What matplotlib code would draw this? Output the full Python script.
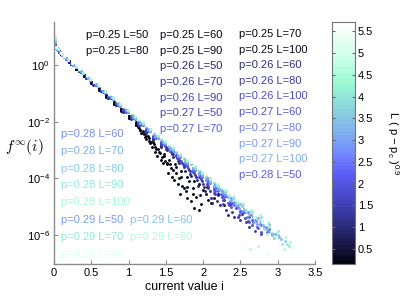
import numpy as np
import matplotlib
matplotlib.use("Agg")
import matplotlib.pyplot as plt
from matplotlib.colors import LinearSegmentedColormap, Normalize
from matplotlib.cm import ScalarMappable

plt.rcParams['font.family'] = ['Liberation Sans', 'DejaVu Sans']
plt.rcParams['mathtext.fontset'] = 'custom'
plt.rcParams['mathtext.rm'] = 'Liberation Sans'
plt.rcParams['mathtext.it'] = 'Liberation Sans:italic'

# parameters of the runs
P_VALUES = [0.25, 0.26, 0.27, 0.28, 0.29]
L_VALUES = [50, 60, 70, 80, 90, 100]
P_C = 0.2484
EXPONENT = 0.9

# data: i values and log10 f(i), smooth head + noisy tail
I_HEAD_025 = [0.0, 0.02, 0.05, 0.1, 0.2, 0.3, 0.4, 0.5, 0.6, 0.7, 0.8, 0.9, 1.0, 1.1]
F_HEAD_025 = {
    50: [0.75, 0.66, 0.53, 0.38, 0.10, -0.15, -0.39, -0.63, -0.88, -1.12, -1.37, -1.62, -1.87, -2.12],
    60: [0.80, 0.67, 0.54, 0.38, 0.11, -0.14, -0.38, -0.62, -0.87, -1.11, -1.36, -1.60, -1.85, -2.10],
    70: [0.85, 0.68, 0.54, 0.39, 0.12, -0.13, -0.37, -0.61, -0.85, -1.09, -1.34, -1.58, -1.83, -2.07],
    80: [0.90, 0.69, 0.55, 0.39, 0.12, -0.12, -0.36, -0.60, -0.84, -1.08, -1.32, -1.56, -1.80, -2.04],
    90: [0.95, 0.70, 0.55, 0.40, 0.13, -0.12, -0.35, -0.59, -0.83, -1.07, -1.31, -1.55, -1.79, -2.03],
    100: [1.00, 0.71, 0.56, 0.40, 0.13, -0.11, -0.35, -0.58, -0.82, -1.06, -1.30, -1.54, -1.78, -2.01],
}
I_TAIL_025 = {
    50: [1.17, 1.24, 1.31, 1.38, 1.46, 1.53, 1.61, 1.69, 1.78, 1.88],
    60: [1.15, 1.22, 1.29, 1.36, 1.43, 1.51, 1.58, 1.66, 1.75, 1.84, 1.95],
    70: [1.16, 1.23, 1.30, 1.37, 1.45, 1.52, 1.60, 1.68, 1.77, 1.86, 1.97, 2.05],
    80: [1.14, 1.21, 1.28, 1.35, 1.42, 1.49, 1.57, 1.64, 1.72, 1.81, 1.90, 2.0, 2.1],
    90: [1.13, 1.2, 1.27, 1.34, 1.41, 1.48, 1.55, 1.63, 1.71, 1.79, 1.88, 1.96, 2.06, 2.2],
    100: [1.12, 1.19, 1.26, 1.33, 1.40, 1.47, 1.54, 1.62, 1.70, 1.78, 1.86, 1.95, 2.04, 2.15, 2.28, 2.43],
}
F_TAIL_025 = {
    50: [-2.40, -2.62, -2.90, -3.22, -3.45, -3.80, -4.05, -4.55, -4.70, -5.05],
    60: [-2.30, -2.55, -2.75, -3.05, -3.35, -3.50, -3.95, -4.20, -4.35, -4.80, -5.10],
    70: [-2.28, -2.50, -2.72, -2.95, -3.25, -3.45, -3.70, -4.00, -4.45, -4.55, -4.90, -4.30],
    80: [-2.22, -2.42, -2.68, -2.88, -3.10, -3.40, -3.62, -3.80, -4.25, -4.10, -4.65, -4.40, -4.85],
    90: [-2.18, -2.38, -2.58, -2.80, -3.05, -3.20, -3.50, -3.58, -3.95, -4.30, -4.10, -4.60, -4.75, -4.55],
    100: [-2.12, -2.32, -2.50, -2.72, -2.95, -3.12, -3.35, -3.48, -3.75, -3.95, -4.35, -4.20, -4.55, -4.70, -4.95, -4.88],
}

I_HEAD_026 = [0.01, 0.03, 0.07, 0.13, 0.23, 0.33, 0.43, 0.53, 0.63, 0.73, 0.83, 0.93, 1.03, 1.13, 1.23, 1.33, 1.43]
F_HEAD_026 = {
    50: [0.72, 0.60, 0.47, 0.28, 0.03, -0.21, -0.45, -0.69, -0.93, -1.17, -1.41, -1.66, -1.90, -2.14, -2.39, -2.63, -2.88],
    60: [0.74, 0.61, 0.48, 0.29, 0.04, -0.20, -0.44, -0.68, -0.91, -1.15, -1.39, -1.64, -1.87, -2.11, -2.36, -2.59, -2.84],
    70: [0.75, 0.62, 0.49, 0.30, 0.05, -0.19, -0.43, -0.67, -0.90, -1.14, -1.38, -1.62, -1.85, -2.09, -2.33, -2.57, -2.81],
    80: [0.76, 0.63, 0.49, 0.30, 0.05, -0.18, -0.42, -0.65, -0.88, -1.12, -1.36, -1.60, -1.83, -2.07, -2.31, -2.54, -2.78],
    90: [0.78, 0.64, 0.50, 0.31, 0.06, -0.17, -0.41, -0.64, -0.87, -1.11, -1.35, -1.58, -1.81, -2.05, -2.28, -2.52, -2.75],
    100: [0.82, 0.65, 0.51, 0.32, 0.07, -0.16, -0.40, -0.63, -0.86, -1.10, -1.33, -1.56, -1.79, -2.03, -2.26, -2.49, -2.72],
}
I_TAIL_026 = {
    50: [1.52, 1.60, 1.68, 1.76, 1.84, 1.93, 2.02, 2.12, 2.22, 2.33],
    60: [1.50, 1.58, 1.66, 1.74, 1.83, 1.92, 2.01, 2.10, 2.20, 2.31, 2.42, 2.52],
    70: [1.51, 1.59, 1.67, 1.75, 1.83, 1.91, 2.00, 2.09, 2.18, 2.28, 2.39, 2.50, 2.62],
    80: [1.50, 1.57, 1.65, 1.73, 1.81, 1.89, 1.98, 2.07, 2.16, 2.26, 2.36, 2.47, 2.58, 2.70],
    90: [1.49, 1.56, 1.64, 1.72, 1.80, 1.88, 1.97, 2.06, 2.15, 2.25, 2.35, 2.45, 2.56, 2.67, 2.78],
    100: [1.48, 1.55, 1.63, 1.71, 1.79, 1.87, 1.96, 2.05, 2.14, 2.24, 2.34, 2.44, 2.55, 2.66, 2.77, 2.89],
}
F_TAIL_026 = {
    50: [-3.00, -3.25, -3.45, -3.72, -3.90, -4.25, -4.45, -4.85, -4.95, -5.30],
    60: [-2.95, -3.15, -3.40, -3.60, -3.85, -4.05, -4.30, -4.70, -4.60, -5.10, -5.35, -5.25],
    70: [-2.92, -3.12, -3.35, -3.55, -3.75, -3.95, -4.20, -4.45, -4.80, -4.75, -5.20, -5.45, -5.70],
    80: [-2.88, -3.08, -3.28, -3.48, -3.70, -3.88, -4.10, -4.35, -4.55, -4.90, -4.85, -5.35, -5.55, -5.85],
    90: [-2.84, -3.02, -3.22, -3.44, -3.62, -3.82, -4.02, -4.25, -4.50, -4.65, -4.95, -5.00, -5.40, -5.55, -5.95],
    100: [-2.80, -2.98, -3.18, -3.38, -3.56, -3.76, -3.96, -4.18, -4.40, -4.55, -4.85, -5.05, -5.20, -5.65, -5.90, -5.80],
}

I_HEAD_027 = [0.0, 0.04, 0.08, 0.16, 0.26, 0.36, 0.46, 0.56, 0.66, 0.76, 0.86, 0.96, 1.06, 1.16, 1.26, 1.36, 1.46, 1.56, 1.66, 1.76, 1.86]
F_HEAD_027 = {
    50: [0.85, 0.57, 0.44, 0.22, -0.01, -0.24, -0.47, -0.71, -0.94, -1.17, -1.41, -1.64, -1.87, -2.10, -2.34, -2.57, -2.80, -3.04, -3.27, -3.50, -3.74],
    60: [0.88, 0.58, 0.45, 0.23, 0.00, -0.24, -0.47, -0.70, -0.93, -1.17, -1.40, -1.63, -1.86, -2.09, -2.33, -2.56, -2.79, -3.02, -3.25, -3.49, -3.72],
    70: [0.92, 0.59, 0.45, 0.23, 0.00, -0.23, -0.46, -0.70, -0.93, -1.16, -1.39, -1.62, -1.85, -2.08, -2.31, -2.54, -2.77, -3.01, -3.24, -3.47, -3.70],
    80: [0.95, 0.60, 0.46, 0.24, 0.01, -0.22, -0.45, -0.68, -0.91, -1.14, -1.37, -1.60, -1.83, -2.06, -2.29, -2.52, -2.75, -2.97, -3.20, -3.43, -3.66],
    90: [0.98, 0.61, 0.46, 0.24, 0.01, -0.22, -0.45, -0.68, -0.91, -1.13, -1.36, -1.59, -1.82, -2.05, -2.27, -2.50, -2.73, -2.96, -3.19, -3.41, -3.64],
    100: [1.05, 0.62, 0.47, 0.25, 0.01, -0.22, -0.45, -0.67, -0.90, -1.13, -1.35, -1.58, -1.81, -2.04, -2.26, -2.49, -2.72, -2.94, -3.17, -3.40, -3.62],
}
I_TAIL_027 = {
    50: [1.95, 2.05, 2.15, 2.26, 2.37, 2.48, 2.60],
    60: [1.96, 2.06, 2.16, 2.27, 2.38, 2.49, 2.61, 2.72],
    70: [1.97, 2.07, 2.17, 2.28, 2.39, 2.50, 2.62, 2.74, 2.85],
    80: [1.94, 2.04, 2.14, 2.25, 2.36, 2.47, 2.59, 2.71, 2.83],
    90: [1.95, 2.05, 2.15, 2.26, 2.37, 2.48, 2.60, 2.72, 2.84, 2.95],
    100: [1.96, 2.06, 2.16, 2.27, 2.38, 2.49, 2.61, 2.73, 2.85, 2.97],
}
F_TAIL_027 = {
    50: [-3.95, -4.20, -4.35, -4.75, -4.90, -5.30, -5.50],
    60: [-3.92, -4.10, -4.45, -4.60, -5.00, -5.15, -5.55, -5.70],
    70: [-3.90, -4.12, -4.35, -4.65, -4.85, -5.20, -5.35, -5.75, -5.90],
    80: [-3.83, -4.05, -4.30, -4.50, -4.80, -5.00, -5.35, -5.50, -5.75],
    90: [-3.82, -4.02, -4.25, -4.52, -4.70, -5.05, -5.20, -5.60, -5.70, -6.10],
    100: [-3.80, -4.00, -4.22, -4.45, -4.75, -4.90, -5.25, -5.40, -5.80, -5.95],
}

I_HEAD_028 = [0.01, 0.05, 0.11, 0.19, 0.29, 0.39, 0.49, 0.59, 0.69, 0.79, 0.89, 0.99, 1.09, 1.19, 1.29, 1.39, 1.49, 1.59, 1.69, 1.79, 1.89, 1.99, 2.09]
F_HEAD_028 = {
    50: [0.75, 0.55, 0.37, 0.16, -0.06, -0.29, -0.52, -0.75, -0.98, -1.20, -1.43, -1.66, -1.89, -2.12, -2.34, -2.57, -2.80, -3.03, -3.26, -3.48, -3.71, -3.94, -4.17],
    60: [0.78, 0.55, 0.37, 0.17, -0.06, -0.28, -0.51, -0.74, -0.96, -1.19, -1.41, -1.64, -1.87, -2.09, -2.32, -2.54, -2.77, -3.00, -3.22, -3.45, -3.67, -3.90, -4.13],
    70: [0.82, 0.56, 0.38, 0.17, -0.06, -0.28, -0.51, -0.73, -0.96, -1.18, -1.41, -1.63, -1.86, -2.08, -2.31, -2.53, -2.76, -2.98, -3.21, -3.43, -3.66, -3.88, -4.11],
    80: [0.86, 0.56, 0.38, 0.17, -0.05, -0.27, -0.50, -0.72, -0.94, -1.16, -1.39, -1.61, -1.83, -2.06, -2.28, -2.50, -2.73, -2.95, -3.17, -3.39, -3.62, -3.84, -4.06],
    90: [0.92, 0.57, 0.38, 0.18, -0.05, -0.27, -0.49, -0.71, -0.93, -1.16, -1.38, -1.60, -1.82, -2.04, -2.27, -2.49, -2.71, -2.93, -3.15, -3.38, -3.60, -3.82, -4.04],
    100: [0.98, 0.58, 0.38, 0.18, -0.04, -0.26, -0.48, -0.70, -0.92, -1.14, -1.36, -1.58, -1.80, -2.02, -2.24, -2.46, -2.68, -2.90, -3.12, -3.34, -3.56, -3.78, -4.00],
}
I_TAIL_028 = {
    50: [2.20, 2.31, 2.42, 2.54, 2.66, 2.78],
    60: [2.19, 2.30, 2.41, 2.52, 2.64, 2.76, 2.88],
    70: [2.21, 2.32, 2.43, 2.55, 2.67, 2.79, 2.91, 3.02],
    80: [2.18, 2.29, 2.40, 2.52, 2.64, 2.76, 2.88, 3.00, 3.10],
    90: [2.20, 2.31, 2.42, 2.53, 2.65, 2.77, 2.89, 3.01, 3.12],
    100: [2.19, 2.30, 2.41, 2.52, 2.64, 2.76, 2.87, 2.99, 3.10, 3.17],
}
F_TAIL_028 = {
    50: [-4.45, -4.62, -4.95, -5.20, -5.45, -5.65],
    60: [-4.38, -4.60, -4.82, -5.15, -5.30, -5.60, -5.85],
    70: [-4.35, -4.55, -4.85, -5.05, -5.35, -5.50, -5.90, -6.05],
    80: [-4.25, -4.48, -4.70, -4.98, -5.15, -5.50, -5.60, -6.00, -6.20],
    90: [-4.25, -4.45, -4.72, -4.90, -5.20, -5.35, -5.70, -5.85, -6.30],
    100: [-4.18, -4.40, -4.62, -4.85, -5.10, -5.30, -5.55, -5.90, -6.05, -6.25],
}

I_HEAD_029 = [0.0, 0.03, 0.09, 0.14, 0.24, 0.34, 0.44, 0.54, 0.64, 0.74, 0.84, 0.94, 1.04, 1.14, 1.24, 1.34, 1.44, 1.54, 1.64, 1.74, 1.84, 1.94, 2.04, 2.14, 2.24]
F_HEAD_029 = {
    50: [0.80, 0.62, 0.44, 0.30, 0.07, -0.16, -0.38, -0.60, -0.83, -1.05, -1.27, -1.49, -1.72, -1.94, -2.16, -2.39, -2.61, -2.83, -3.06, -3.28, -3.50, -3.72, -3.95, -4.17, -4.39],
    60: [0.85, 0.62, 0.44, 0.30, 0.07, -0.15, -0.37, -0.59, -0.81, -1.03, -1.25, -1.48, -1.70, -1.92, -2.14, -2.36, -2.58, -2.80, -3.02, -3.24, -3.46, -3.69, -3.91, -4.13, -4.35],
    70: [0.90, 0.62, 0.44, 0.30, 0.07, -0.15, -0.37, -0.59, -0.81, -1.03, -1.25, -1.47, -1.69, -1.91, -2.13, -2.35, -2.57, -2.79, -3.01, -3.23, -3.45, -3.67, -3.89, -4.11, -4.33],
    80: [0.95, 0.63, 0.44, 0.31, 0.08, -0.14, -0.36, -0.58, -0.80, -1.02, -1.24, -1.46, -1.68, -1.89, -2.11, -2.33, -2.55, -2.77, -2.99, -3.21, -3.43, -3.65, -3.87, -4.08, -4.30],
    90: [1.02, 0.63, 0.44, 0.31, 0.08, -0.14, -0.36, -0.58, -0.79, -1.01, -1.23, -1.45, -1.67, -1.88, -2.10, -2.32, -2.54, -2.76, -2.97, -3.19, -3.41, -3.63, -3.85, -4.06, -4.28],
    100: [1.10, 0.63, 0.44, 0.31, 0.08, -0.14, -0.35, -0.57, -0.79, -1.00, -1.22, -1.44, -1.65, -1.87, -2.09, -2.31, -2.52, -2.74, -2.96, -3.17, -3.39, -3.61, -3.82, -4.04, -4.26],
}
I_TAIL_029 = {
    50: [2.34, 2.45, 2.57, 2.69, 2.81, 2.93],
    60: [2.33, 2.44, 2.56, 2.68, 2.80, 2.92, 3.04],
    70: [2.35, 2.46, 2.58, 2.70, 2.82, 2.94, 3.06, 3.15],
    80: [2.34, 2.45, 2.57, 2.63, 2.74, 2.85, 2.97, 3.08, 3.17],
    90: [2.33, 2.44, 2.56, 2.68, 2.79, 2.85, 2.91, 3.03, 3.14, 3.20],
    100: [2.35, 2.47, 2.59, 2.71, 2.83, 2.95, 3.07, 3.19],
}
F_TAIL_029 = {
    50: [-4.65, -4.95, -5.20, -5.45, -5.70, -5.95],
    60: [-4.60, -4.90, -5.10, -5.55, -5.65, -6.00, -6.15],
    70: [-4.62, -4.85, -5.15, -5.35, -5.80, -5.90, -6.30, -6.40],
    80: [-4.55, -4.80, -5.05, -6.50, -6.40, -5.95, -6.10, -6.50, -6.25],
    90: [-4.50, -4.75, -5.00, -5.35, -5.50, -6.65, -5.85, -6.30, -6.20, -6.45],
    100: [-4.45, -4.70, -5.00, -5.25, -5.50, -5.85, -6.05, -6.30],
}

HEAD_I = [I_HEAD_025, I_HEAD_026, I_HEAD_027, I_HEAD_028, I_HEAD_029]
HEAD_F = [F_HEAD_025, F_HEAD_026, F_HEAD_027, F_HEAD_028, F_HEAD_029]
TAIL_I = [I_TAIL_025, I_TAIL_026, I_TAIL_027, I_TAIL_028, I_TAIL_029]
TAIL_F = [F_TAIL_025, F_TAIL_026, F_TAIL_027, F_TAIL_028, F_TAIL_029]

# where each "p=.. L=.." label sits (x in i units, y as log10)
LABEL_X = {
    (0.25, 50): 0.43, (0.25, 60): 1.42, (0.25, 70): 2.48, (0.25, 80): 0.43, (0.25, 90): 1.42, (0.25, 100): 2.48,
    (0.26, 50): 1.42, (0.26, 60): 2.48, (0.26, 70): 1.42, (0.26, 80): 2.48, (0.26, 90): 1.42, (0.26, 100): 2.48,
    (0.27, 50): 1.42, (0.27, 60): 2.48, (0.27, 70): 1.42, (0.27, 80): 2.48, (0.27, 90): 2.48, (0.27, 100): 2.48,
    (0.28, 50): 2.48, (0.28, 60): 0.09, (0.28, 70): 0.09, (0.28, 80): 0.09, (0.28, 90): 0.09, (0.28, 100): 0.09,
    (0.29, 50): 0.09, (0.29, 60): 1.02, (0.29, 70): 0.09, (0.29, 80): 1.02, (0.29, 90): 0.09, (0.29, 100): 1.02,
}
LABEL_Y = {
    (0.25, 50): 1.06, (0.25, 60): 1.06, (0.25, 70): 1.09, (0.25, 80): 0.505, (0.25, 90): 0.505, (0.25, 100): 0.55,
    (0.26, 50): -0.035, (0.26, 60): 0.0, (0.26, 70): -0.59, (0.26, 80): -0.565, (0.26, 90): -1.15, (0.26, 100): -1.10,
    (0.27, 50): -1.70, (0.27, 60): -1.65, (0.27, 70): -2.27, (0.27, 80): -2.21, (0.27, 90): -2.79, (0.27, 100): -3.33,
    (0.28, 50): -3.88, (0.28, 60): -2.44, (0.28, 70): -3.02, (0.28, 80): -3.67, (0.28, 90): -4.24, (0.28, 100): -4.83,
    (0.29, 50): -5.45, (0.29, 60): -5.45, (0.29, 70): -6.06, (0.29, 80): -6.06, (0.29, 90): -6.68, (0.29, 100): -6.68,
}

cmap = LinearSegmentedColormap.from_list("bluewhite", [
    (0.00, (0.02, 0.02, 0.07)),
    (0.15, (0.17, 0.17, 0.48)),
    (0.26, (0.27, 0.27, 0.76)),
    (0.37, (0.36, 0.36, 0.96)),
    (0.46, (0.45, 0.55, 1.00)),
    (0.55, (0.50, 0.70, 0.93)),
    (0.66, (0.55, 0.85, 0.86)),
    (0.75, (0.60, 0.98, 0.82)),
    (0.87, (0.82, 1.00, 0.93)),
    (1.00, (1.00, 1.00, 1.00)),
], N=64)

values = {}
for p in P_VALUES:
    for L in L_VALUES:
        values[(p, L)] = L * (p - P_C) ** EXPONENT
norm = Normalize(vmin=min(values.values()), vmax=max(values.values()))

fig = plt.figure(figsize=(4.15, 2.98), dpi=100)
ax = fig.add_axes([0.130, 0.114, 0.629, 0.812])

for k, p in enumerate(P_VALUES):
    for L in L_VALUES:
        c = cmap(norm(values[(p, L)]))
        xs = list(HEAD_I[k]) + list(TAIL_I[k][L])
        ys = 10 ** np.array(list(HEAD_F[k][L]) + list(TAIL_F[k][L]))
        ax.plot(xs, ys, '.', color=c, ms=4.2, mew=0, linestyle='none')

for p in P_VALUES:
    for L in L_VALUES:
        ax.text(LABEL_X[(p, L)], 10 ** LABEL_Y[(p, L)], f"p={p:.2f} L={L}",
                color=cmap(norm(values[(p, L)])), fontsize=8, ha='left', va='center')

ax.set_yscale('log')
ax.set_xlim(0, 3.5)
ax.set_ylim(10 ** -7.02, 10 ** 1.52)
ax.set_xticks(np.arange(0, 3.51, 0.5))
ax.set_xticklabels(["0", "0.5", "1", "1.5", "2", "2.5", "3", "3.5"])
ax.set_yticks([1e-6, 1e-4, 1e-2, 1e0])
ax.yaxis.set_minor_locator(matplotlib.ticker.NullLocator())
ax.spines['top'].set_visible(False)
ax.spines['right'].set_visible(False)
for s in ['left', 'bottom']:
    ax.spines[s].set_color('0.55')
    ax.spines[s].set_linewidth(1.0)
ax.tick_params(direction='in', length=3, color='0.55', labelsize=8, labelcolor='black', pad=3)
ax.set_xlabel("current value i", fontsize=9, labelpad=2)
ax.set_ylabel(r"$f^{\infty}(i)$", fontsize=11, rotation=0, math_fontfamily='cm',
              ha='center', va='center')
ax.yaxis.set_label_coords(-0.115, 0.485)

cax = fig.add_axes([0.800, 0.114, 0.0554, 0.812])
sm = ScalarMappable(norm=norm, cmap=cmap)
cb = fig.colorbar(sm, cax=cax)
cb.set_ticks([0.5, 1, 1.5, 2, 2.5, 3, 3.5, 4, 4.5, 5, 5.5])
cb.set_ticklabels(["0.5", "1", "1.5", "2", "2.5", "3", "3.5", "4", "4.5", "5", "5.5"])
cb.outline.set_edgecolor('0.45')
cax.tick_params(direction='in', left=True, right=True, length=2.5, color='0.4', labelsize=8, pad=2)
cax.text(2.65, 0.5, "L ( p − p$_\\mathrm{c}$ )$^{0.9}$", rotation=270, transform=cax.transAxes,
         ha='center', va='center', fontsize=8)

fig.savefig("out.png", dpi=100)
